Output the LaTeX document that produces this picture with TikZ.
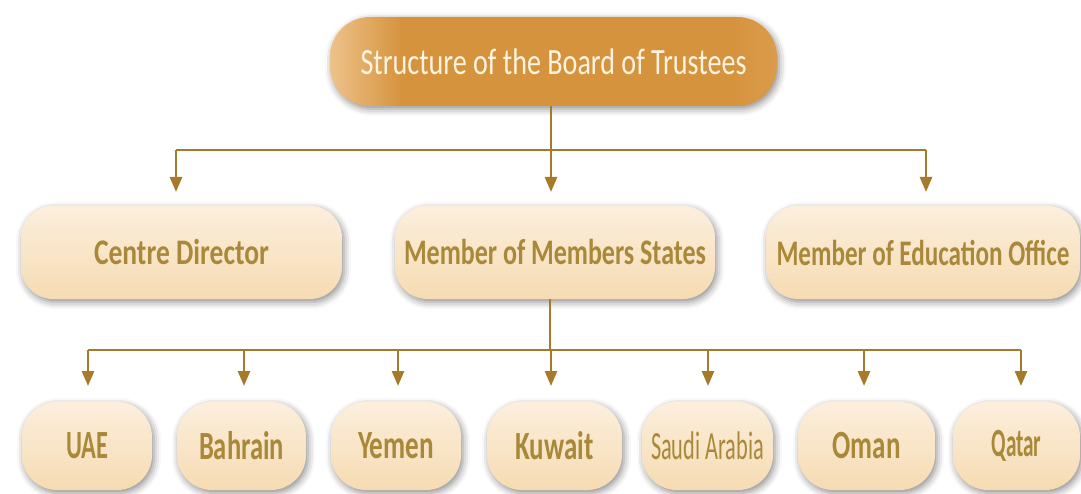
\documentclass[tikz,border=0pt]{standalone}
\usepackage{fontspec}
\setmainfont{Carlito}
\usetikzlibrary{arrows.meta,shadows.blur}

\definecolor{linegold}{HTML}{A67A28}
\definecolor{textgold}{HTML}{A98939}
\definecolor{peachtop}{HTML}{FCEFDD}
\definecolor{peachbot}{HTML}{F6DBB2}
\definecolor{amberL}{HTML}{EDC28A}
\definecolor{amberM}{HTML}{D6933E}
\definecolor{amberR}{HTML}{DA9C4B}
\definecolor{creamtext}{HTML}{FFF4DF}

% warm amber fill of the title box, lighter at its left end
\pgfdeclarehorizontalshading{amber}{100bp}{color(0bp)=(amberL); color(25bp)=(amberL);
  color(33bp)=(amberM); color(70bp)=(amberM); color(75bp)=(amberR); color(100bp)=(amberR)}

% squeeze a label to a given width, keeping its height
\newcommand\fitto[2]{\resizebox{#1pt}{\height}{#2}}

\begin{document}
\begin{tikzpicture}[x=1pt,y=-1pt,
  softshadow/.style={blur shadow={shadow xshift=2pt,shadow yshift=-3pt,
      shadow blur radius=7pt,shadow opacity=45}},
  titlebox/.style={shape=rectangle,rounded corners=40pt,shading=amber,
      softshadow,inner sep=0pt,outer sep=0pt,text=creamtext,
      font=\fontsize{37}{40}\selectfont},
  peachbox/.style={shape=rectangle,rounded corners=32pt,top color=peachtop,
      bottom color=peachbot,softshadow,inner sep=0pt,outer sep=0pt,
      text=textgold,font=\fontsize{36}{40}\selectfont\bfseries},
  midbox/.style={peachbox,minimum height=93pt},
  leafbox/.style={peachbox,minimum height=88pt,rounded corners=35pt,
      font=\fontsize{40}{44}\selectfont\bfseries},
  wire/.style={draw=linegold,line width=2.6pt},
  arr/.style={wire,-{Triangle[length=15pt,width=12pt]}},
]
\useasboundingbox (0,0) rectangle (1081,494);

% title
\node[titlebox,minimum width=447pt,minimum height=89pt] (top) at (553.5,61.5)
  {\fitto{386}{Structure of the Board of Trustees}};

% second level
\node[midbox,minimum width=321pt] (cd) at (181.5,252.5) {\fitto{175}{Centre Director}};
\node[midbox,minimum width=320pt] (ms) at (555,252.5) {\fitto{302}{Member of Members States}};
\node[midbox,minimum width=314pt] (eo) at (923,252.5) {\fitto{293}{Member of Education Office}};

% member states
\node[leafbox,minimum width=130pt] (uae) at (87,446)    {\fitto{42}{UAE}};
\node[leafbox,minimum width=129pt] (bah) at (241.5,446) {\fitto{85}{Bahrain}};
\node[leafbox,minimum width=130pt] (yem) at (396,446)   {\fitto{76}{Yemen}};
\node[leafbox,minimum width=135pt] (kuw) at (554.5,446) {\fitto{78}{Kuwait}};
\node[leafbox,minimum width=131pt] (sau) at (707.5,446) {\fitto{113}{\mdseries Saudi Arabia}};
\node[leafbox,minimum width=137pt] (oma) at (866.5,446) {\fitto{68}{Oman}};
\node[leafbox,minimum width=127pt] (qat) at (1016.5,446){\fitto{50}{Qatar}};

% title to second level
\coordinate (hubA) at (551,150);
\coordinate (tapAL) at (176,150);
\coordinate (tapAR) at (926,150);
\draw[wire] (top.south -| hubA) -- (hubA);
\draw[wire] (tapAL) -- (tapAR);
\draw[arr,shorten >=14pt] (tapAL) -- (tapAL |- cd.north);
\draw[arr,shorten >=14pt] (hubA) -- (hubA |- ms.north);
\draw[arr,shorten >=14pt] (tapAR) -- (tapAR |- eo.north);

% member states bus
\coordinate (hubB) at (550,350);
\draw[wire] (ms.south -| hubB) -- (hubB);
\coordinate (t-uae) at (88,350);
\coordinate (t-bah) at (244,350);
\coordinate (t-yem) at (398,350);
\coordinate (t-kuw) at (551,350);
\coordinate (t-sau) at (708,350);
\coordinate (t-oma) at (864,350);
\coordinate (t-qat) at (1021,350);
\draw[wire] (t-uae) -- (t-qat);
\foreach \n in {uae,bah,yem,kuw,sau,oma,qat}
  \draw[arr,shorten >=16pt] (t-\n) -- (t-\n |- \n.north);
\end{tikzpicture}
\end{document}
